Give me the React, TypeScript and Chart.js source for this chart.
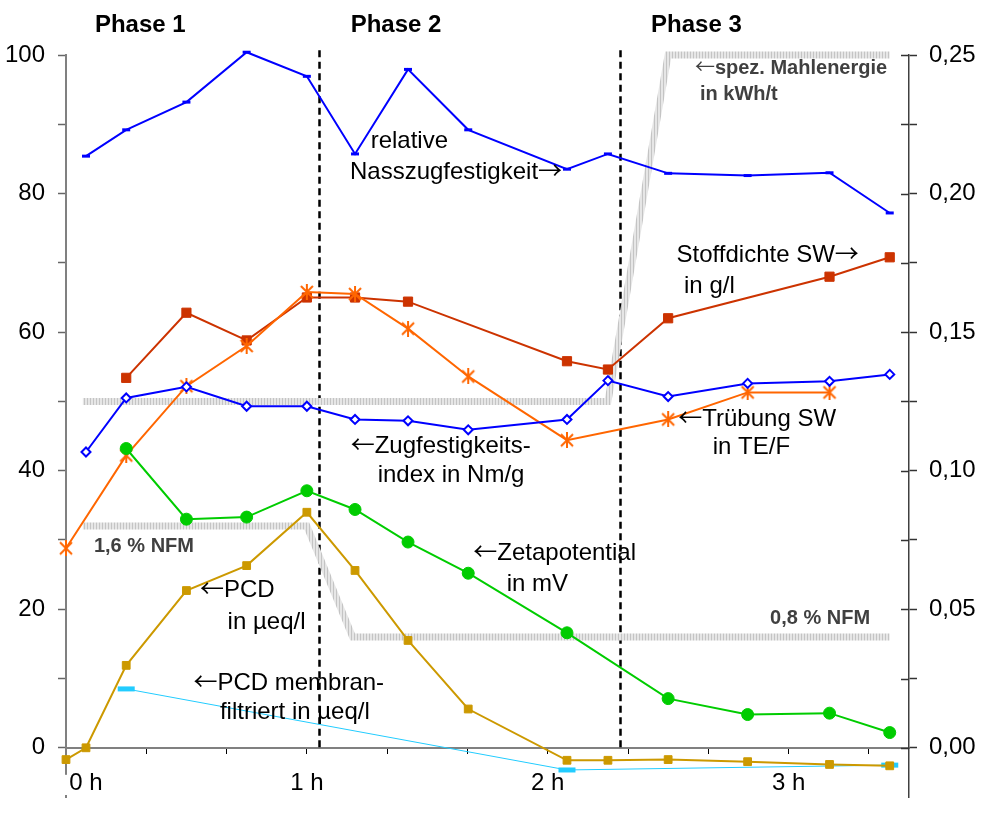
import React, { useEffect, useRef } from 'react';
import { Chart, registerables } from 'chart.js';

Chart.register(...registerables);

const FONT = '"Liberation Sans", Arial, Helvetica, sans-serif';
const ARROW_FONT = '"Noto Sans CJK JP", "Noto Sans CJK SC", "DejaVu Sans", sans-serif';

// ---------- data (x in hours) ----------
const nassTime = [0.083, 0.25, 0.5, 0.75, 1.0, 1.2, 1.42, 1.67, 2.08, 2.25, 2.5, 2.83, 3.17, 3.42];
const nassValues = [0.2135, 0.223, 0.233, 0.251, 0.2423, 0.2143, 0.2448, 0.223, 0.2088, 0.2143, 0.2073, 0.2065, 0.2075, 0.193];

const zugTime = [0.083, 0.25, 0.5, 0.75, 1.0, 1.2, 1.42, 1.67, 2.08, 2.25, 2.5, 2.83, 3.17, 3.42];
const zugValues = [42.7, 50.5, 52.1, 49.3, 49.3, 47.4, 47.2, 45.9, 47.4, 53.0, 50.7, 52.6, 52.9, 53.9];

const stoffTime = [0.25, 0.5, 0.75, 1.0, 1.2, 1.42, 2.08, 2.25, 2.5, 3.17, 3.42];
const stoffValues = [0.1335, 0.157, 0.147, 0.1625, 0.1625, 0.161, 0.1395, 0.1365, 0.155, 0.170, 0.177];

const truebTime = [0, 0.25, 0.5, 0.75, 1.0, 1.2, 1.42, 1.67, 2.08, 2.5, 2.83, 3.17];
const truebValues = [28.8, 42.2, 52.2, 58.0, 65.8, 65.5, 60.5, 53.6, 44.4, 47.4, 51.3, 51.3];

const zetaTime = [0.25, 0.5, 0.75, 1.0, 1.2, 1.42, 1.67, 2.08, 2.5, 2.83, 3.17, 3.42];
const zetaValues = [43.2, 33.0, 33.3, 37.1, 34.4, 29.7, 25.2, 16.6, 7.1, 4.8, 5.0, 2.2];

const pcdTime = [0, 0.083, 0.25, 0.5, 0.75, 1.0, 1.2, 1.42, 1.67, 2.08, 2.25, 2.5, 2.83, 3.17, 3.42];
const pcdValues = [-1.7, 0, 11.9, 22.7, 26.3, 34.0, 25.6, 15.5, 5.6, -1.8, -1.8, -1.7, -2.0, -2.4, -2.6];

const pcdMemTime = [0.25, 2.08, 3.42];
const pcdMemValues = [8.5, -3.2, -2.5];

const mahlTime = [0.07, 2.25, 2.5, 3.42];
const mahlValues = [50, 50, 100, 100];

const nfmTime = [0.07, 1.0, 1.19, 3.42];
const nfmValues = [32, 32, 16, 16];

const phaseBoundaries = [1.05, 2.3];

// ---------- ticks ----------
const xTickMinutes = [0, 20, 40, 60, 80, 100, 120, 140, 160, 180, 200];
const xLabelHours = [0, 1, 2, 3];
const xLabels = ['      0 h', '1 h', '2 h', '3 h'];

const yTickValues = [0, 10, 20, 30, 40, 50, 60, 70, 80, 90, 100];
const yMajor = [0, 20, 40, 60, 80, 100];

const y1TickValues = [0, 0.025, 0.05, 0.075, 0.1, 0.125, 0.15, 0.175, 0.2, 0.225, 0.25];
const y1Major = [0, 0.05, 0.1, 0.15, 0.2, 0.25];
const y1Labels = ['0,00', '0,05', '0,10', '0,15', '0,20', '0,25'];

// ---------- annotations (anchored in data coords: hours / left-axis value) ----------
type Ann = { t: string; h: number; v: number; s: 'n' | 'g' | 'p' };
const annotations: Ann[] = [
  { t: 'Phase 1', h: 0.12, v: 103.3, s: 'p' },
  { t: 'Phase 2', h: 1.182, v: 103.3, s: 'p' },
  { t: 'Phase 3', h: 2.429, v: 103.3, s: 'p' },
  { t: 'relative', h: 1.265, v: 86.6, s: 'n' },
  { t: 'Nasszugfestigkeit\u2192', h: 1.179, v: 82.1, s: 'n' },
  { t: '\u2190spez. Mahlenergie', h: 2.611, v: 97.3, s: 'g' },
  { t: 'in kWh/t', h: 2.632, v: 93.5, s: 'g' },
  { t: 'Stoffdichte SW\u2192', h: 2.535, v: 70.1, s: 'n' },
  { t: 'in g/l', h: 2.566, v: 65.6, s: 'n' },
  { t: '\u2190Zugfestigkeits-', h: 1.182, v: 42.6, s: 'n' },
  { t: 'index in Nm/g', h: 1.294, v: 38.3, s: 'n' },
  { t: '\u2190Trübung SW', h: 2.542, v: 46.5, s: 'n' },
  { t: 'in TE/F', h: 2.685, v: 42.4, s: 'n' },
  { t: '\u2190Zetapotential', h: 1.691, v: 27.1, s: 'n' },
  { t: 'in mV', h: 1.83, v: 22.6, s: 'n' },
  { t: '\u2190PCD', h: 0.556, v: 21.8, s: 'n' },
  { t: 'in µeq/l', h: 0.671, v: 17.2, s: 'n' },
  { t: '\u2190PCD membran-', h: 0.529, v: 8.4, s: 'n' },
  { t: 'filtriert in µeq/l', h: 0.639, v: 4.1, s: 'n' },
  { t: '1,6 % NFM', h: 0.116, v: 28.3, s: 'g' },
  { t: '0,8 % NFM', h: 2.923, v: 17.9, s: 'g' },
];

const pts = (xs: number[], ys: number[]) => xs.map((x, i) => ({ x, y: ys[i] }));
const near = (a: number, b: number) => Math.abs(a - b) < 1e-6;

function makeAsterisk(color: string) {
  const c = document.createElement('canvas');
  c.width = 16;
  c.height = 16;
  const g = c.getContext('2d')!;
  g.strokeStyle = color;
  g.lineWidth = 2;
  g.beginPath();
  g.moveTo(2, 2);
  g.lineTo(14, 14);
  g.moveTo(14, 2);
  g.lineTo(2, 14);
  g.moveTo(8, 0);
  g.lineTo(8, 16);
  g.stroke();
  return c;
}

function makePattern(ctx: CanvasRenderingContext2D) {
  const c = document.createElement('canvas');
  c.width = 3;
  c.height = 1;
  const g = c.getContext('2d')!;
  g.fillStyle = '#e6e6e6';
  g.fillRect(0, 0, 3, 1);
  g.fillStyle = '#c4c4c4';
  g.fillRect(0, 0, 1, 1);
  return ctx.createPattern(c, 'repeat') as CanvasPattern;
}

function drawRuns(ctx: CanvasRenderingContext2D, text: string, x: number, y: number, font: string, arrowFont: string) {
  const parts = text.split(/([\u2190\u2192])/).filter((p) => p.length > 0);
  let cx = x;
  for (const p of parts) {
    const isArrow = p === '\u2190' || p === '\u2192';
    ctx.font = isArrow ? arrowFont : font;
    ctx.fillText(p, cx, y);
    cx += ctx.measureText(p).width;
  }
}

const overlayPlugin = {
  id: 'overlay',
  beforeDatasetsDraw(chart: any) {
    const { ctx, scales } = chart;
    const x = scales.x;
    const y = scales.y;
    ctx.save();
    ctx.strokeStyle = '#000';
    ctx.lineWidth = 2.5;
    ctx.setLineDash([7, 4.5]);
    for (const b of phaseBoundaries) {
      const px = Math.round(x.getPixelForValue(b)) + 0.5;
      ctx.beginPath();
      ctx.moveTo(px, y.getPixelForValue(100.7));
      ctx.lineTo(px, y.getPixelForValue(0));
      ctx.stroke();
    }
    ctx.restore();
  },
  afterDraw(chart: any) {
    const { ctx, scales, chartArea } = chart;
    const x = scales.x;
    const y = scales.y;
    const y1 = scales.y1;
    ctx.save();
    // inner half of right axis ticks (they cross the axis)
    ctx.strokeStyle = '#333';
    ctx.lineWidth = 1.5;
    for (const v of y1TickValues) {
      const py = Math.round(y1.getPixelForValue(v)) + 0.5;
      ctx.beginPath();
      ctx.moveTo(chartArea.right - 8, py);
      ctx.lineTo(chartArea.right, py);
      ctx.stroke();
    }
    // white backdrop of the "0 h" label over the left axis line
    ctx.fillStyle = '#fff';
    const zeroY = y.getPixelForValue(0);
    ctx.fillRect(chartArea.left - 3, zeroY + 27, 6, chartArea.bottom - zeroY - 29);

    // texts
    ctx.textAlign = 'left';
    ctx.textBaseline = 'alphabetic';
    for (const a of annotations) {
      let font = `24px ${FONT}`;
      let arrowFont = `24px ${ARROW_FONT}`;
      ctx.fillStyle = '#000';
      if (a.s === 'p') {
        font = `bold 24px ${FONT}`;
      } else if (a.s === 'g') {
        font = `bold 20px ${FONT}`;
        arrowFont = `20px ${ARROW_FONT}`;
        ctx.fillStyle = '#404040';
      }
      drawRuns(ctx, a.t, x.getPixelForValue(a.h), y.getPixelForValue(a.v), font, arrowFont);
    }
    ctx.restore();
  },
};

export default function App() {
  const canvasRef = useRef<HTMLCanvasElement | null>(null);

  useEffect(() => {
    const canvas = canvasRef.current;
    if (!canvas) return;
    const ctx = canvas.getContext('2d')!;
    const pattern = makePattern(ctx);
    const asterisk = makeAsterisk('#FF6600');

    Chart.defaults.font.family = FONT;

    const chart = new Chart(canvas, {
      type: 'line',
      data: {
        datasets: [
          {
            label: 'relative Nasszugfestigkeit',
            data: pts(nassTime, nassValues),
            yAxisID: 'y1',
            borderColor: '#0000FF',
            borderWidth: 2,
            pointStyle: 'line',
            pointRadius: 4,
            pointBorderWidth: 3,
            pointBorderColor: '#0000FF',
            order: 1,
          },
          {
            label: 'Stoffdichte SW',
            data: pts(stoffTime, stoffValues),
            yAxisID: 'y1',
            borderColor: '#CC3300',
            borderWidth: 2,
            pointStyle: 'rect',
            pointRadius: 6.5,
            pointBorderWidth: 1,
            pointBorderColor: '#CC3300',
            pointBackgroundColor: '#CC3300',
            order: 3,
          },
          {
            label: 'Trübung SW',
            data: pts(truebTime, truebValues),
            yAxisID: 'y',
            borderColor: '#FF6600',
            borderWidth: 2,
            pointStyle: asterisk,
            pointRadius: 7,
            order: 2,
          },
          {
            label: 'Zugfestigkeitsindex',
            data: pts(zugTime, zugValues),
            yAxisID: 'y',
            borderColor: '#0000FF',
            borderWidth: 2,
            pointStyle: 'rectRot',
            pointRadius: 4.5,
            pointBorderWidth: 2,
            pointBorderColor: '#0000FF',
            pointBackgroundColor: '#FFFFFF',
            order: 1,
          },
          {
            label: 'Zetapotential',
            data: pts(zetaTime, zetaValues),
            yAxisID: 'y',
            borderColor: '#00CC00',
            borderWidth: 2,
            pointStyle: 'circle',
            pointRadius: 6,
            pointBorderWidth: 1,
            pointBorderColor: '#00CC00',
            pointBackgroundColor: '#00CC00',
            order: 1,
          },
          {
            label: 'PCD',
            data: pts(pcdTime, pcdValues),
            yAxisID: 'y',
            borderColor: '#CC9900',
            borderWidth: 2,
            pointStyle: 'rect',
            pointRadius: 5.5,
            pointBorderWidth: 1,
            pointBorderColor: '#CC9900',
            pointBackgroundColor: '#CC9900',
            order: 1,
          },
          {
            label: 'PCD membranfiltriert',
            data: pts(pcdMemTime, pcdMemValues),
            yAxisID: 'y',
            borderColor: '#22CCFF',
            borderWidth: 1,
            pointStyle: 'line',
            pointRadius: 8.5,
            pointBorderWidth: 5,
            pointBorderColor: '#22CCFF',
            order: 4,
          },
          {
            label: 'spez. Mahlenergie',
            data: pts(mahlTime, mahlValues),
            yAxisID: 'y',
            borderColor: pattern as any,
            borderWidth: 7,
            borderJoinStyle: 'miter',
            borderCapStyle: 'butt',
            pointRadius: 0,
            order: 10,
          },
          {
            label: 'NFM',
            data: pts(nfmTime, nfmValues),
            yAxisID: 'y',
            borderColor: pattern as any,
            borderWidth: 7,
            borderJoinStyle: 'miter',
            borderCapStyle: 'butt',
            pointRadius: 0,
            order: 10,
          },
        ] as any,
      },
      options: {
        animation: false,
        responsive: false,
        devicePixelRatio: 1,
        clip: false as any,
        layout: { padding: { top: 55, bottom: 31, left: 0, right: 0 } },
        plugins: { legend: { display: false }, tooltip: { enabled: false } },
        elements: { line: { tension: 0, fill: false } },
        scales: {
          x: {
            type: 'linear',
            min: 0,
            max: 3.5,
            position: { y: 0 } as any,
            afterBuildTicks: (s: any) => {
              s.ticks = xTickMinutes.map((m) => ({ value: m / 60 }));
            },
            ticks: {
              autoSkip: false,
              maxRotation: 0,
              minRotation: 0,
              padding: 16,
              color: '#000',
              font: { size: 24, family: FONT },
              callback: (v: any) => {
                const i = xLabelHours.findIndex((h) => near(h, Number(v)));
                return i >= 0 ? xLabels[i] : '';
              },
            },
            grid: { drawOnChartArea: false, tickLength: 5, tickColor: '#000', tickWidth: 1 },
            border: { color: '#808080', width: 2 },
          },
          y: {
            position: 'left',
            min: -7.1,
            max: 100,
            afterFit: (s: any) => {
              s.width = 66;
            },
            afterBuildTicks: (s: any) => {
              s.ticks = yTickValues.map((v) => ({ value: v }));
            },
            ticks: {
              autoSkip: false,
              padding: 13,
              color: '#000',
              font: { size: 24, family: FONT },
              callback: (v: any) => (yMajor.some((m) => near(m, Number(v))) ? String(v) : ''),
            },
            grid: { drawOnChartArea: false, tickLength: 8, tickColor: '#666', tickWidth: 1.5 },
            border: { color: '#808080', width: 2 },
          },
          y1: {
            position: 'right',
            min: -0.01775,
            max: 0.25,
            afterFit: (s: any) => {
              s.width = 81;
            },
            afterBuildTicks: (s: any) => {
              s.ticks = y1TickValues.map((v) => ({ value: v }));
            },
            ticks: {
              autoSkip: false,
              padding: 12,
              color: '#000',
              font: { size: 24, family: FONT },
              callback: (v: any) => {
                const i = y1Major.findIndex((m) => near(m, Number(v)));
                return i >= 0 ? y1Labels[i] : '';
              },
            },
            grid: { drawOnChartArea: false, tickLength: 8, tickColor: '#333', tickWidth: 1.5 },
            border: { color: '#404040', width: 1.5 },
          },
        },
      } as any,
      plugins: [overlayPlugin],
    });

    return () => chart.destroy();
  }, []);

  return (
    <div style={{ position: 'absolute', left: 0, top: 0, width: 990, height: 828, background: '#fff' }}>
      <canvas ref={canvasRef} width={990} height={828} style={{ display: 'block' }} />
    </div>
  );
}
